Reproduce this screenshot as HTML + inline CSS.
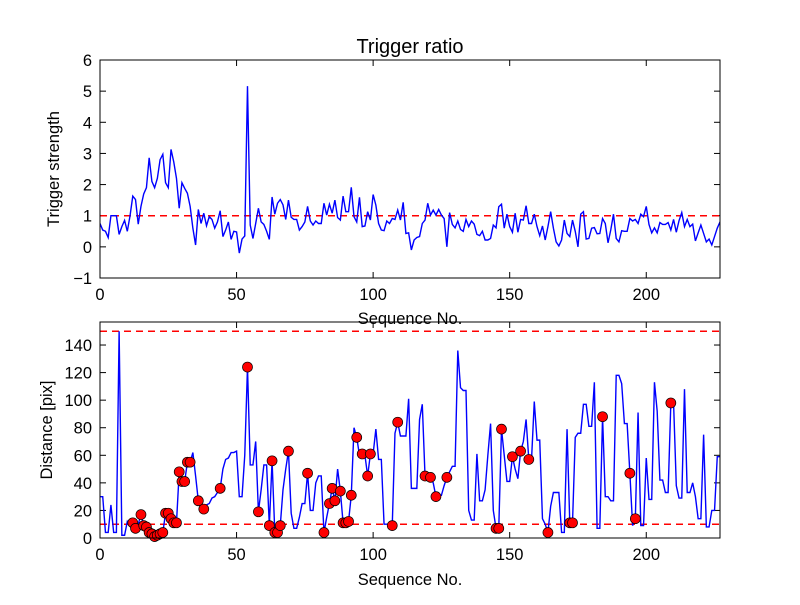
<!DOCTYPE html>
<html><head><meta charset="utf-8"><style>
body{margin:0;background:#fff}
svg text{font-family:"Liberation Sans",sans-serif;fill:#000}
</style></head><body>
<svg id="c" width="800" height="600" xmlns="http://www.w3.org/2000/svg"></svg>
<script>
const ratioValues=[0.75,0.54,0.5,0.3,1.0,1.0,1.0,0.4,0.65,0.85,0.5,1.0,1.63,1.52,0.73,1.3,1.7,1.9,2.86,2.1,1.9,2.2,2.8,2.97,2.06,1.9,3.13,2.73,2.2,1.24,2.06,1.88,1.72,1.3,0.6,0.06,1.2,0.75,1.08,0.68,0.97,0.88,0.6,0.8,1.16,0.33,0.54,0.8,0.24,0.5,0.48,-0.2,0.25,0.35,5.16,0.7,0.27,0.75,1.24,0.8,0.72,0.5,0.24,1.6,1.05,1.4,1.52,1.35,0.88,1.5,0.95,0.88,0.88,0.54,0.65,0.8,1.3,0.83,0.7,0.83,0.75,0.75,1.4,1.02,1.37,1.08,1.5,0.94,0.86,1.63,1.13,1.13,1.91,0.97,0.8,1.59,0.65,0.67,1.13,0.86,1.68,1.34,0.75,0.54,0.52,0.83,0.75,0.91,0.88,1.18,0.86,1.43,0.43,0.45,-0.1,0.22,0.3,0.33,0.75,0.86,1.4,1.02,1.18,1.02,1.2,1.02,0.91,0.0,1.1,0.72,0.61,0.83,0.56,0.5,0.88,0.65,0.83,0.73,0.4,0.36,0.5,0.22,0.22,0.27,0.7,0.61,1.29,1.37,0.6,1.05,0.65,0.47,1.08,0.47,0.88,0.86,1.32,0.75,0.75,1.05,0.65,0.36,0.67,0.22,0.65,1.13,0.6,0.16,0.03,0.22,0.86,0.43,0.33,0.86,0.5,0.0,1.05,1.13,0.25,0.27,0.6,0.62,0.42,0.43,0.91,0.75,0.13,0.54,1.05,0.27,0.16,0.52,0.5,0.5,0.91,0.83,0.88,0.75,1.05,0.97,1.3,0.72,0.45,0.61,0.45,0.78,0.72,0.72,0.78,0.54,0.88,0.47,0.84,1.1,0.65,0.88,0.65,0.73,0.19,0.45,0.7,0.43,0.16,0.25,0.06,0.33,0.6,0.8,0.67,0.5,0.33,0.33];
const distValues=[30,30,4,4,24,4,4,150,2,2,12,9,11,7,10,17,9,8,4,3,1,2,3,4,18,18,14,11,11,48,41,41,55,55,62,45,27,24,21,24,25,29,30,33,36,50,57,58,62,62,63,30,30,60,124,53,53,70,19,35,53,53,9,56,4,4,9,35,50,63,18,7,7,15,25,25,47,20,20,40,45,45,4,15,25,36,27,50,34,11,11,12,31,80,73,60,61,60,45,61,61,79,57,57,10,10,10,9,76,84,74,74,74,101,36,36,36,86,97,45,45,44,40,30,31,31,38,44,48,52,52,136,109,107,107,20,13,13,61,27,27,35,60,83,20,7,7,79,60,41,41,59,50,43,63,70,86,57,57,99,71,71,14,10,4,23,33,33,33,4,4,79,11,11,73,76,76,97,97,81,81,113,7,7,88,30,30,27,27,118,118,112,83,83,47,9,14,91,9,9,58,28,28,113,92,42,42,33,33,98,98,38,29,29,108,33,33,40,30,14,14,75,8,8,20,20,59,59];
const markerIdx=[12,13,15,16,17,18,19,20,21,22,23,24,25,26,27,28,29,30,31,32,33,36,38,44,54,58,62,63,64,65,66,69,76,82,84,85,86,88,89,90,91,92,94,96,98,99,107,109,119,121,123,127,145,146,147,151,154,157,164,172,173,184,194,196,209];
const xTicks=[0,50,100,150,200];
const topYTicks=[-1,0,1,2,3,4,5,6];
const botYTicks=[0,20,40,60,80,100,120,140];
const topThreshold=[1];
const botThresholds=[10,150];

const svg=document.getElementById('c');
const NS='http://www.w3.org/2000/svg';
function mk(tag,attrs,parent){const e=document.createElementNS(NS,tag);for(const k in attrs)e.setAttribute(k,attrs[k]);(parent||svg).appendChild(e);return e;}
const L=100,R=720,XMAX=227;
const xs=v=>L+v/XMAX*(R-L);

function axes(top,bottom,ymin,ymax,yTicks,name){
  const ys=v=>bottom-(v-ymin)/(ymax-ymin)*(bottom-top);
  const g=mk('g',{});
  
  
  mk('rect',{x:L,y:top,width:R-L,height:bottom-top,fill:'#fff'},g);
  xTicks.forEach(t=>{
    const x=xs(t);
    mk('line',{x1:x,x2:x,y1:bottom,y2:bottom-6,stroke:'#000'},g);
    mk('line',{x1:x,x2:x,y1:top,y2:top+6,stroke:'#000'},g);
    const tx=mk('text',{x:x,y:bottom+22,'font-size':16.5,'text-anchor':'middle'},g);
    tx.textContent=t;
    
    
  });
  yTicks.forEach(t=>{
    const y=ys(t);
    mk('line',{x1:L,x2:L+6,y1:y,y2:y,stroke:'#000'},g);
    mk('line',{x1:R,x2:R-6,y1:y,y2:y,stroke:'#000'},g);
    const tx=mk('text',{x:L-8,y:y+6,'font-size':16.5,'text-anchor':'end'},g);
    tx.textContent=t<0?'\u2212'+(-t):t;
    
    
  });
  return {g,ys};
}

const A=axes(60,278,-1,6,topYTicks,'trigger-strength-axes');
const clip1=mk('clipPath',{id:'cp1'});mk('rect',{x:L,y:60,width:R-L,height:218},clip1);
topThreshold.forEach(v=>{
  const l=mk('line',{x1:L,x2:R,y1:A.ys(v),y2:A.ys(v),stroke:'#f00','stroke-width':1.5,'stroke-dasharray':'7,5'},A.g);
  
  
});
const p1=mk('polyline',{points:ratioValues.map((v,i)=>xs(i)+','+A.ys(v)).join(' '),fill:'none',stroke:'#00f','stroke-width':1.4,'clip-path':'url(#cp1)'},A.g);


mk('rect',{x:L,y:60,width:R-L,height:218,fill:'none',stroke:'#000','stroke-width':1},A.g);

const B=axes(322,538,0,156.7,botYTicks,'distance-axes');
const clip2=mk('clipPath',{id:'cp2'});mk('rect',{x:L,y:322,width:R-L,height:216},clip2);
botThresholds.forEach(v=>{
  const l=mk('line',{x1:L,x2:R,y1:B.ys(v),y2:B.ys(v),stroke:'#f00','stroke-width':1.5,'stroke-dasharray':'7,5'},B.g);
  
  
});
const p2=mk('polyline',{points:distValues.map((v,i)=>xs(i)+','+B.ys(v)).join(' '),fill:'none',stroke:'#00f','stroke-width':1.4,'clip-path':'url(#cp2)'},B.g);


markerIdx.forEach(i=>{
  const c=mk('circle',{cx:xs(i),cy:B.ys(distValues[i]),r:5,fill:'#f00',stroke:'#000','stroke-width':0.7},B.g);
  
  
});
mk('rect',{x:L,y:322,width:R-L,height:216,fill:'none',stroke:'#000','stroke-width':1},B.g);

function label(txt,attrs,name){const t=mk('text',attrs);t.textContent=txt;return t;}
label('Trigger ratio',{x:410,y:53,'font-size':20,'text-anchor':'middle'},'chart-title');
label('Sequence No.',{x:410,y:324,'font-size':16.5,'text-anchor':'middle'},'top-x-axis-title');
label('Sequence No.',{x:410,y:585,'font-size':16.5,'text-anchor':'middle'},'bottom-x-axis-title');
label('Trigger strength',{x:59,y:169,'font-size':16.5,'text-anchor':'middle',transform:'rotate(-90 59 169)'},'top-y-axis-title');
label('Distance [pix]',{x:52,y:430,'font-size':16.5,'text-anchor':'middle',transform:'rotate(-90 52 430)'},'bottom-y-axis-title');
</script>
</body></html>
